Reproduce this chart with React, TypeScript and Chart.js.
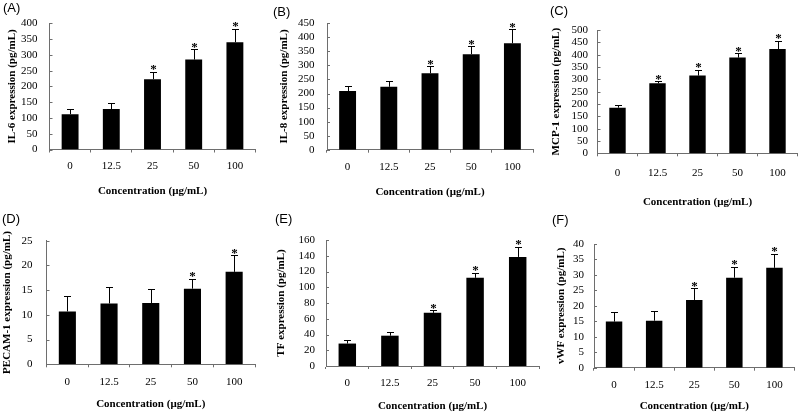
import React, { useEffect, useRef } from "react";
import { Chart, registerables } from "chart.js";

Chart.register(...registerables);

// ---------- data ----------
const categories = ["0", "12.5", "25", "50", "100"];

const il6Mean = [112, 128, 223, 285, 340];
const il6Err = [16, 18, 23, 33, 43];
const il6Sig = [false, false, true, true, true];

const il8Mean = [209, 224, 272, 340, 379];
const il8Err = [19, 19, 25, 28, 50];
const il8Sig = [false, false, true, true, true];

const mcp1Mean = [185, 284, 315, 388, 423];
const mcp1Err = [11, 9, 23, 17, 34];
const mcp1Sig = [false, true, true, true, true];

const pecamMean = [10.7, 12.3, 12.4, 15.3, 18.7];
const pecamErr = [3.2, 3.4, 2.9, 2.0, 3.4];
const pecamSig = [false, false, false, true, true];

const tfMean = [28.5, 38.5, 67.5, 112, 138.5];
const tfErr = [4, 5, 3.5, 6.5, 13];
const tfSig = [false, false, true, true, true];

const vwfMean = [14.9, 15.2, 21.9, 29.1, 32.3];
const vwfErr = [3.0, 3.2, 3.8, 3.6, 4.5];
const vwfSig = [false, false, true, true, true];

const xTitle = "Concentration (μg/mL)";

// ---------- panel layout ----------
type Panel = {
  tag: string;
  yTitle: string;
  mean: number[];
  err: number[];
  sig: boolean[];
  yMax: number;
  yStep: number;
  left: number; top: number; w: number; h: number;
  L: number; R: number; T: number; B: number;
  yTitlePad: number; xTitlePad: number; xTickPad: number; yTickPad: number;
  tagX: number; tagY: number;
};

const panels: Panel[] = [
  { tag: "(A)", yTitle: "IL-6 expression (pg/mL)", mean: il6Mean, err: il6Err, sig: il6Sig, yMax: 400, yStep: 50,
    left: 0, top: 0, w: 265, h: 205, L: 49.5, R: 255.5, T: 23.3, B: 149.5,
    yTitlePad: 5.4, xTitlePad: 7.4, xTickPad: 7.4, yTickPad: 12, tagX: 3, tagY: 8.5 },
  { tag: "(B)", yTitle: "IL-8 expression (pg/mL)", mean: il8Mean, err: il8Err, sig: il8Sig, yMax: 450, yStep: 50,
    left: 265, top: 0, w: 270, h: 205, L: 62, R: 268, T: 23.3, B: 149.7,
    yTitlePad: 12.4, xTitlePad: 6.7, xTickPad: 7.4, yTickPad: 12.5, tagX: 8, tagY: 12 },
  { tag: "(C)", yTitle: "MCP-1 expression (pg/mL)", mean: mcp1Mean, err: mcp1Err, sig: mcp1Sig, yMax: 500, yStep: 50,
    left: 530, top: 0, w: 270, h: 212, L: 67.5, R: 267.5, T: 30, B: 153.3,
    yTitlePad: 19.4, xTitlePad: 3.4, xTickPad: 10.4, yTickPad: 9.5, tagX: 20, tagY: 11.5 },
  { tag: "(D)", yTitle: "PECAM-1 expression (pg/mL)", mean: pecamMean, err: pecamErr, sig: pecamSig, yMax: 25, yStep: 5,
    left: 0, top: 205, w: 265, h: 212, L: 46.5, R: 255, T: 35.7, B: 159.3,
    yTitlePad: 0.5, xTitlePad: 6.4, xTickPad: 7.8, yTickPad: 14, tagX: 2, tagY: 14 },
  { tag: "(E)", yTitle: "TF expression (pg/mL)", mean: tfMean, err: tfErr, sig: tfSig, yMax: 160, yStep: 20,
    left: 265, top: 205, w: 275, h: 212, L: 61, R: 274, T: 35, B: 161,
    yTitlePad: 9.4, xTitlePad: 4.4, xTickPad: 7.7, yTickPad: 11, tagX: 10, tagY: 14 },
  { tag: "(F)", yTitle: "vWF expression (pg/mL)", mean: vwfMean, err: vwfErr, sig: vwfSig, yMax: 40, yStep: 5,
    left: 530, top: 205, w: 270, h: 212, L: 64, R: 264.5, T: 39, B: 162.7,
    yTitlePad: 24.4, xTitlePad: 4.4, xTickPad: 7.7, yTickPad: 10, tagX: 22, tagY: 15 },
];

const SERIF = "'Liberation Serif', 'Times New Roman', serif";
const SANS = "'Liberation Sans', Arial, sans-serif";
const AXIS_COLOR = "#6e6e6e";

function PanelChart({ p }: { p: Panel }) {
  const ref = useRef<HTMLCanvasElement | null>(null);

  useEffect(() => {
    if (!ref.current) return;

    const decor = {
      id: "decor" + p.tag,
      afterDatasetsDraw(chart: any) {
        const ctx = chart.ctx;
        const meta = chart.getDatasetMeta(0);
        const yScale = chart.scales.y;
        ctx.save();
        ctx.strokeStyle = "#000";
        ctx.lineWidth = 1;
        meta.data.forEach((bar: any, i: number) => {
          const x = Math.round(bar.x) + 0.5;
          const yTop = yScale.getPixelForValue(p.mean[i] + p.err[i]);
          const yCap = Math.round(yTop) + 0.5;
          ctx.beginPath();
          ctx.moveTo(x, bar.y);
          ctx.lineTo(x, yCap);
          ctx.moveTo(x - 3.5, yCap);
          ctx.lineTo(x + 3.5, yCap);
          ctx.stroke();
          if (p.sig[i]) {
            ctx.font = "bold 13px " + SERIF;
            ctx.fillStyle = "#000";
            ctx.textAlign = "center";
            ctx.textBaseline = "alphabetic";
            const m = ctx.measureText("*");
            const desc = m.actualBoundingBoxDescent || -4;
            ctx.fillText("*", x, yTop - 1.5 - desc);
          }
        });
        ctx.restore();
      },
      afterDraw(chart: any) {
        const ctx = chart.ctx;
        const yScale = chart.scales.y;
        const L = chart.chartArea.left;
        ctx.save();
        ctx.strokeStyle = AXIS_COLOR;
        ctx.lineWidth = 1;
        yScale.ticks.forEach((t: any) => {
          const y = Math.round(yScale.getPixelForValue(t.value)) + 0.5;
          ctx.beginPath();
          ctx.moveTo(L, y);
          ctx.lineTo(L + 3, y);
          ctx.stroke();
        });
        ctx.font = "13px " + SANS;
        ctx.fillStyle = "#000";
        ctx.textAlign = "left";
        ctx.textBaseline = "middle";
        ctx.fillText(p.tag, p.tagX, p.tagY);
        ctx.restore();
      },
    };

    const chart = new Chart(ref.current, {
      type: "bar",
      data: {
        labels: categories,
        datasets: [
          {
            data: p.mean,
            backgroundColor: "#000",
            borderWidth: 0,
            barPercentage: 0.41,
            categoryPercentage: 1,
          },
        ],
      },
      options: {
        responsive: false,
        animation: false,
        devicePixelRatio: 1,
        layout: {
          padding: { left: 0, top: p.T, right: p.w - p.R, bottom: 0 },
        },
        plugins: {
          legend: { display: false },
          tooltip: { enabled: false },
          title: { display: false },
        },
        scales: {
          x: {
            type: "category",
            offset: true,
            grid: {
              display: true,
              drawOnChartArea: false,
              drawTicks: true,
              tickLength: 3,
              color: AXIS_COLOR,
              offset: true,
            },
            border: { display: true, color: AXIS_COLOR, width: 1 },
            ticks: {
              color: "#000",
              font: { family: SERIF, size: 11 },
              padding: p.xTickPad,
              maxRotation: 0,
              autoSkip: false,
            },
            title: {
              display: true,
              text: xTitle,
              color: "#000",
              font: { family: SERIF, size: 11, weight: "bold" },
              padding: { top: 0, bottom: p.xTitlePad },
            },
            afterFit: (s: any) => {
              s.height = p.h - p.B;
            },
          },
          y: {
            min: 0,
            max: p.yMax,
            grid: { display: false, drawTicks: false },
            border: { display: true, color: AXIS_COLOR, width: 1 },
            ticks: {
              stepSize: p.yStep,
              autoSkip: false,
              color: "#000",
              font: { family: SERIF, size: 11 },
              padding: p.yTickPad,
            },
            title: {
              display: true,
              text: p.yTitle,
              color: "#000",
              font: { family: SERIF, size: 11, weight: "bold" },
              padding: { top: p.yTitlePad, bottom: 0 },
            },
            afterFit: (s: any) => {
              s.width = p.L;
            },
          },
        },
      },
      plugins: [decor],
    } as any);

    return () => chart.destroy();
  }, [p]);

  return (
    <canvas
      ref={ref}
      width={p.w}
      height={p.h}
      style={{ position: "absolute", left: p.left, top: p.top, width: p.w, height: p.h }}
    />
  );
}

export default function App() {
  return (
    <div
      style={{
        position: "absolute",
        left: 0,
        top: 0,
        width: 800,
        height: 412,
        overflow: "hidden",
        background: "#fff",
      }}
    >
      {panels.map((p) => (
        <PanelChart key={p.tag} p={p} />
      ))}
    </div>
  );
}
